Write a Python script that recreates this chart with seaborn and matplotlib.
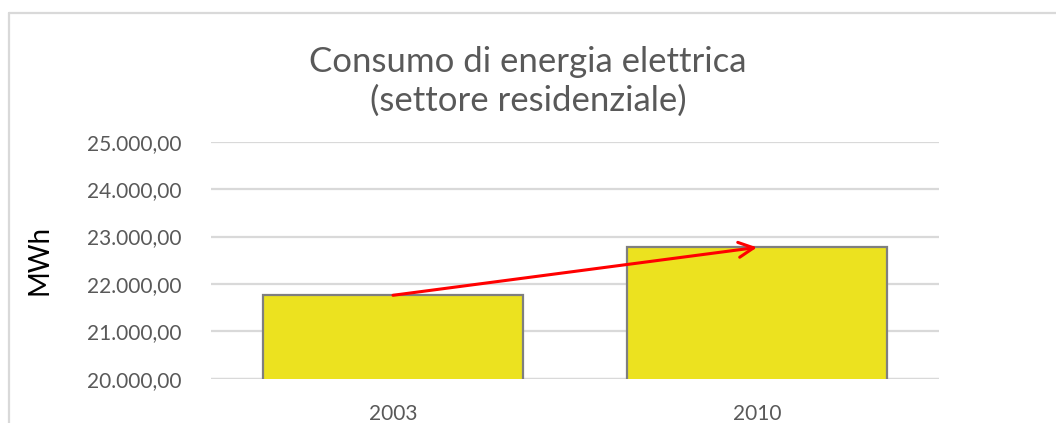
import numpy as np
import pandas as pd
import seaborn as sns
from matplotlib import pyplot as plt
from matplotlib.lines import Line2D

# dati
anni = ['2003', '2010']
consumo = [21760, 22770]
yticks = [20000, 21000, 22000, 23000, 24000, 25000]

df = pd.DataFrame({'anno': anni, 'consumo': consumo})

sns.set_theme(style='white')
plt.rcParams['font.family'] = ['Lato', 'DejaVu Sans']
grigio = '#595959'

fig = plt.figure(figsize=(10.56, 4.23), dpi=100)
ax = fig.add_axes([0.1998, 0.1047, 0.6894, 0.5603])

ax.yaxis.grid(True, color='#d9d9d9', linewidth=1.6)
ax.set_axisbelow(True)
sns.barplot(x='anno', y='consumo', data=df, color='#ECE21F', width=0.714,
            edgecolor='#7f7f7f', linewidth=1.6, saturation=1, ax=ax)

ax.set_ylim(20000, 25000)
ax.set_xlim(-0.5, 1.5)
ax.set_yticks(yticks)
ax.set_yticklabels([f'{v:,.2f}'.replace(',', 'X').replace('.', ',').replace('X', '.') for v in yticks])
ax.tick_params(axis='y', labelsize=15, colors=grigio, pad=21, length=0)
ax.tick_params(axis='x', labelsize=15, colors=grigio, pad=18, length=0)
for s in ax.spines.values():
    s.set_visible(False)
ax.axhline(20000, color='#d9d9d9', linewidth=1.6, zorder=0.5)

ax.set_xlabel('')
ax.set_ylabel('MWh', fontsize=20, color='black', labelpad=25)

# freccia tra le cime delle barre
ax.annotate('', xy=(1, consumo[1]), xytext=(0, consumo[0]),
            arrowprops=dict(arrowstyle='->,head_length=0.9,head_width=0.45',
                            color='red', lw=2.2, shrinkA=0, shrinkB=0))

fig.text(0.5, 0.807, 'Consumo di energia elettrica\n(settore residenziale)',
         ha='center', va='center', fontsize=25, color=grigio, linespacing=1.25)

# bordo del riquadro (sinistra e sopra)
fig.add_artist(Line2D([9 / 1056, 9 / 1056], [0, 1 - 13 / 423], transform=fig.transFigure,
                      color='#d9d9d9', linewidth=1.6))
fig.add_artist(Line2D([9 / 1056, 1], [1 - 13 / 423, 1 - 13 / 423], transform=fig.transFigure,
                      color='#d9d9d9', linewidth=1.6))

fig.savefig('out.png', dpi=100)
